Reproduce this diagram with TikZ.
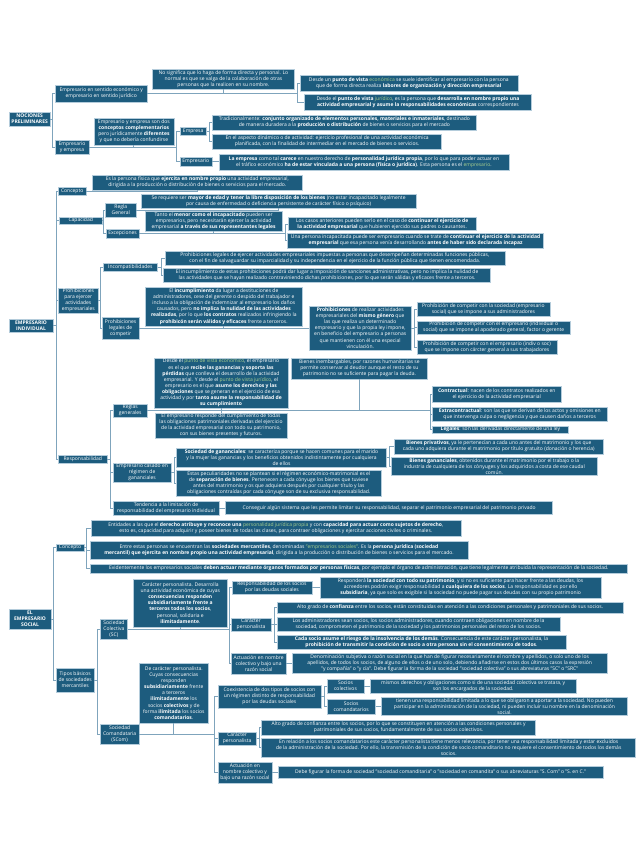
\documentclass[tikz,border=0pt]{standalone}
\usepackage{fontspec}
\setmainfont{Open Sans}
\usetikzlibrary{calc}
\definecolor{boxfill}{HTML}{1D5C7E}
\definecolor{boxline}{HTML}{B4CCDB}
\definecolor{linec}{HTML}{7FA4BC}
\definecolor{hlgreen}{HTML}{A9D18E}
\newcommand{\grn}[1]{\textcolor{hlgreen}{#1}}

\begin{document}
\begin{tikzpicture}[x=1pt, y=-1pt, font=\fontsize{5}{6.1}\selectfont,
          box/.style={draw=boxline, line width=0.5pt, fill=boxfill, text=white,
                      align=center, inner xsep=1.5pt, inner ysep=1pt},
          ttl/.style={box, font=\fontsize{5}{6.1}\selectfont\bfseries},
          wh/.style 2 args={minimum width=#1pt, minimum height=#2pt},
          conn/.style={draw=linec, line width=0.9pt}]
        \useasboundingbox (0,0) rectangle (641,848);
        % nociones preliminares
        \node[ttl, wh={41}{14}] (np) at (29.6,119) {NOCIONES\\PRELIMINARES};
        \node[box, wh={92}{17}] (esj) at (101.2,93.5) {Empresario en sentido económico y\\empresario en sentido jurídico};
        \node[box, wh={142}{20}] (nosig) at (223.4,79) {No significa que lo haga de forma directa y personal. Lo\\normal es que se valga de la colaboración de otras\\personas que la realicen en su nombre.};
        \node[box, wh={218}{16}] (econ) at (408.8,83) {Desde un \textbf{punto de vista} \grn{económica} se suele identificar al empresario con la persona\\que de forma directa realiza \textbf{labores de organización y dirección empresarial}};
        \node[box, wh={227}{16}] (jur) at (418,102) {Desde el \textbf{punto de vista} \grn{jurídico}, es la persona que \textbf{desarrolla en nombre propio una}\\\textbf{actividad empresarial y asume la responsabilidades económicas} correspondientes};
        \node[box, wh={33.5}{14}] (eye) at (72,147) {Empresario\\y empresa};
        \node[box, wh={80}{27}] (concomp) at (133.9,131.5) {Empresario y empresa son dos\\\textbf{conceptos complementarios}\\pero jurídicamente \textbf{diferentes}\\y que no debería confundirse};
        \node[box, wh={26.6}{7.5}] (empresa) at (193.2,131.5) {Empresa};
        \node[box, wh={264}{15}] (trad) at (344.4,122.5) {Tradicionalmente: \textbf{conjunto organizado de elementos personales, materiales e inmateriales}, destinado\\de manera duradera a la \textbf{producción o distribución} de bienes o servicios para el mercado};
        \node[box, wh={229}{15}] (dina) at (327.1,141.5) {En el aspecto dinámico o de actividad: ejercicio profesional de una actividad económica\\planificada, con la finalidad de intermediar en el mercado de bienes o servicios.};
        \node[box, wh={32}{9}] (empr) at (195.8,161.5) {Empresario};
        \node[box, wh={290}{16}] (carece) at (363.9,162) {\textbf{La empresa} como tal \textbf{carece} en nuestro derecho de \textbf{personalidad jurídica propia}, por lo que para poder actuar en\\el tráfico económico \textbf{ha de estar vinculada a una persona (física o jurídica)}. Esta persona es el \grn{empresario}.};
        % empresario individual
        \node[ttl, wh={44}{13}] (ei) at (31,325.5) {EMPRESARIO\\INDIVIDUAL};
        \node[box, wh={27.4}{8}] (conc1) at (72.2,191) {Concepto};
        \node[box, wh={210.5}{15}] (conc1t) at (197.3,182.5) {Es la persona física que \textbf{ejercita en nombre propio} una actividad empresarial,\\dirigida a la producción o distribución de bienes o servicios para el mercado.};
        \node[box, wh={43}{7.5}] (cap) at (80.7,220.5) {Capacidad};
        \node[box, wh={30.6}{14}] (rg) at (120.8,210) {Regla\\General};
        \node[box, wh={275}{14}] (rgt) at (278.6,201) {Se requiere ser \textbf{mayor de edad y tener la libre disposición de los bienes} (no estar incapacitado legalmente\\por causa de enfermedad o deficiencia persistente de carácter físico o psíquico)};
        \node[box, wh={32.7}{9}] (exc) at (122.6,233.5) {Excepciones};
        \node[box, wh={137}{20}] (tanto) at (213.6,221) {Tanto el \textbf{menor como el incapacitado} pueden ser\\empresarios, pero necesitarán ejercer la actividad\\empresarial \textbf{a través de sus representantes legales}};
        \node[box, wh={188}{12}] (casos) at (382.2,224) {Los casos anteriores pueden serlo en el caso de \textbf{continuar el ejercicio de}\\\textbf{la actividad empresarial} que hubieren ejercido sus padres o causantes.};
        \node[box, wh={256}{15}] (incap) at (415.6,240.5) {Una persona incapacitada puede ser empresario cuando se trate de \textbf{continuar el ejercicio de la actividad}\\\textbf{empresarial} que esa persona venía desarrollando \textbf{antes de haber sido declarada incapaz}};
        \node[box, wh={39.6}{25}] (proh) at (78.3,300.5) {Prohibiciones\\para ejercer\\actividades\\empresariales};
        \node[box, wh={54}{8}] (incomp) at (130.4,267) {Incompatibilidades};
        \node[box, wh={340}{14}] (inct1) at (334.8,258) {Prohibiciones legales de ejercer actividades empresariales impuestas a personas que desempeñan determinadas funciones públicas,\\con el fin de salvaguardar su imparcialidad y su independencia en el ejercicio de la función pública que tienen encomendada.};
        \node[box, wh={327}{14}] (inct2) at (327.1,275) {El incumplimiento de estas prohibiciones podrá dar lugar a imposición de sanciones administrativas, pero no implica la nulidad de\\las actividades que se hayan realizado contraviniendo dichas prohibiciones, por lo que serán válidas y eficaces frente a terceros.};
        \node[box, wh={36.8}{22}] (plc) at (120.6,328) {Prohibiciones\\legales de\\competir};
        \node[box, wh={157.4}{39}] (incum) at (223.8,306.5) {El \textbf{incumplimiento} da lugar a destituciones de\\administradores, cese del gerente o despido del trabajador e\\incluso a la obligación de indemnizar al empresario los daños\\causados, pero \textbf{no implica la nulidad de las actividades}\\\textbf{realizadas}, por lo que \textbf{los contratos} realizados infringiendo la\\\textbf{prohibicón serán válidos y eficaces} frente a terceros.};
        \node[box, wh={101.4}{44}] (mismo) at (360.2,328) {\textbf{Prohibiciones} de realizar actividades\\empresariales del \textbf{mismo género} que\\las que realiza un determinado\\empresario y que la propia ley impone,\\en beneficio del empresario a personas\\que mantienen con él una especial\\vinculación.};
        \node[box, wh={133}{14}] (pc1) at (483.4,309) {Prohibición de competir con la sociedad (empresario\\social) que se impone a sus administradores};
        \node[box, wh={153}{13}] (pc2) at (493.7,327.5) {Prohibición de competir con el empresario (individual o\\social) que se impone al apoderado general, factor o gerente};
        \node[box, wh={140}{14}] (pc3) at (486.9,347) {Prohibición de competir con el empresario (indiv o soc)\\que se impone con cárcter general a sus trabajadores};
        % responsabilidad
        \node[box, wh={48.6}{8}] (resp) at (82.8,459) {Responsabilidad};
        \node[box, wh={34}{11}] (rgen) at (130.2,410.5) {Reglas\\generales};
        \node[box, wh={133.7}{50}] (desde) at (221,383) {Desde el \grn{punto de vista económico}, el empresario\\es el que \textbf{recibe las ganancias y soporta las}\\\textbf{pérdidas} que conlleva el desarrollo de la actividad\\empresarial. Y desde el \grn{punto de vista jurídico}, el\\empresario es el que \textbf{asume los derechos y las}\\\textbf{obligaciones} que se generan en el ejercicio de esa\\actividad y por \textbf{tanto asume la responsabilidad de}\\\textbf{su cumplimiento}};
        \node[box, wh={131.7}{25}] (respt) at (221,425.5) {El empresario responde del cumplimiento de todas\\las obligaciones patrimoniales derivadas del ejercicio\\de la actividad empresarial con todo su patrimonio,\\con sus bienes presentes y futuros.};
        \node[box, wh={135.7}{21}] (inemb) at (359.4,368.5) {Bienes inembargables, por razones humanitarias se\\permite conservar al deudor aunque el resto de su\\patrimonio no se suficiente para pagar la deuda.};
        \node[box, wh={128.4}{16}] (contr) at (496.7,394) {\textbf{Contractual}: nacen de los contratos realizados en\\el ejercicio de la actividad empresarial};
        \node[box, wh={174.6}{14}] (extra) at (519.8,414) {\textbf{Extracontractual}: son las que se derivan de los actos y omisiones en\\que intervenga culpa o negligencia y que causen daños a terceros};
        \node[box, wh={135.8}{7.5}] (leg) at (500.4,429.5) {\textbf{Legales}: son las derivadas directamente de una ley};
        \node[box, wh={57.7}{17}] (casado) at (142.1,472.5) {Empresario casado en\\régimen de\\gananciales};
        \node[box, wh={209.7}{19}] (socgan) at (281.5,457.5) {\textbf{Sociedad de gananciales}: se caracteriza porque se hacen comunes para el marido\\y la mujer las ganancias y los beneficios obtenidos indistintamente por cualquiera\\de ellos};
        \node[box, wh={208.5}{15}] (priv) at (498.8,446.5) {\textbf{Bienes privativos}, ya le pertenecían a cada uno antes del matrimonio y los que\\cada uno adquiera durante el matrimonio por título gratuito (donación o herencia)};
        \node[box, wh={205.2}{17}] (ganan) at (494.3,466.5) {\textbf{Bienes gananciales}, obtenidos durante el matrimonio por el trabajo o la\\industria de cualquiera de los cónyuges y los adquiridos a costa de ese caudal\\común.};
        \node[box, wh={204.4}{26}] (separ) at (278.8,483) {Estas peculiaridades no se plantean si el régimen económico-matrimonial es el\\de \textbf{separación de bienes}. Pertenecen a cada cónyuge los bienes que tuviese\\antes del matrimonio y os que adquiera después por cualquier título y las\\obligaciones contraídas por cada cónyuge son de su exclusiva responsabilidad.};
        \node[box, wh={105.5}{14}] (tend) at (166,508) {Tendencia a la limitación de\\responsabilidad del empresario individual};
        \node[box, wh={327}{13}] (cons) at (389.2,508) {Conseguir algún sistema que les permite limitar su responsabilidad, separar el patrimonio empresarial del patrimonio privado};
        % empresario social
        \node[ttl, wh={42}{20}] (es) at (30,619) {EL\\EMPRESARIO\\SOCIAL};
        \node[box, wh={27.4}{7.5}] (conc2) at (70.1,547.5) {Concepto};
        \node[box, wh={370}{16}] (ent) at (275.8,528) {Entidades a las que el \textbf{derecho atribuye y reconoce una} \grn{personalidad jurídica propia} y con \textbf{capacidad para actuar como sujetos de derecho},\\esto es, capacidad para adquirir y poseer bienes de todas las clases, para contraer obligaciones y ejercitar acciones civiles o criminales.};
        \node[box, wh={378}{18}] (entre) at (279,550) {Entre estas personas se encuentran las \textbf{sociedades mercantiles}, denominadas \grn{"empresarios sociales"}. Es la \textbf{persona jurídica (sociedad}\\\textbf{mercantil) que ejercita en nombre propio una actividad empresarial}, dirigida a la producción o distribución de bienes o servicios para el mercado.};
        \node[box, wh={537.7}{9}] (evid) at (358.8,568.5) {Evidentemente los empresarios sociales \textbf{deben actuar mediante órganos formados por personas físicas}, por ejemplo el órgano de administración, que tiene legalmente atribuida la representación de la sociedad.};
        \node[box, wh={37.6}{24}] (tipos) at (75.2,680) {Tipos básicos\\de sociedades\\mercantiles};
        \node[box, wh={27.4}{20}] (sc) at (113.9,629) {Sociedad\\Colectiva\\(SC)};
        \node[box, wh={93.2}{48}] (scpers) at (180.3,603) {Carácter personalista. Desarrolla\\una actividad económica de cuyas\\\textbf{consecuencias responden}\\\textbf{subsidiariamente frente a}\\\textbf{terceros todos los socios},\\personal, solidaria e\\\textbf{ilimitadamente}.};
        \node[box, wh={80}{13}] (rsoc) at (271.9,587.5) {Responsabilidad de los socios\\por las deudas sociales};
        \node[box, wh={281}{21}] (rsoct) at (460.6,587.5) {Responderá \textbf{la sociedad con todo su patrimonio}, y si no es suficiente para hacer frente a las deudas, los\\acreedores podrán exigir responsabilidad a \textbf{cualquiera de los socios}. La responsabilidad es por ello\\\textbf{subsidiaria}, ya que solo es exigible si la sociedad no puede pagar sus deudas con su propio patrimonio};
        \node[box, wh={40}{13}] (scar) at (251,624.5) {Carácter\\personalista};
        \node[box, wh={346.7}{11}] (alto1) at (450.1,607.5) {Alto grado de \textbf{confianza} entre los socios, están constituidas en atención a las condiciones personales y patrimoniales de sus socios.};
        \node[box, wh={283.3}{14}] (admin) at (418.5,624) {Los administradores sean socios, los socios administradores, cuando contraen obligaciones en nombre de la\\sociedad, comprometen el patrimonio de la sociedad y los patrimonios personales del resto de los socios.};
        \node[box, wh={289.4}{14}] (riesgo) at (421.5,642) {\textbf{Cada socio asume el riesgo de la insolvencia de los demás}. Consecuencia de este carácter personalista, la\\\textbf{prohibición de transmitir la condición de socio a otra persona sin el consentimiento de todos}.};
        \node[box, wh={55.2}{21}] (sact) at (258.6,663.5) {Actuación en nombre\\colectivo y bajo una\\razón social};
        \node[box, wh={314.8}{20}] (denom) at (449.7,663.5) {Denominación subjetiva o razón social en la que han de figurar necesariamente el nombre y apellidos, o solo uno de los\\apellidos, de todos los socios, de alguno de ellos o de uno solo, debiendo añadirse en estos dos últimos casos la expresión\\"y compañía" o "y cía". Debe figurar la forma de la sociedad "sociedad colectiva" o sus abreviaturas "SC" o "SRC"};
        \node[box, wh={38.8}{20}] (scom) at (119.6,734) {Sociedad\\Comandataria\\(SCom)};
        \node[box, wh={69.5}{60}] (scompers) at (173.8,693) {De carácter personalista.\\Cuyas consecuencias\\responden\\\textbf{subsidiariamente} frente\\a terceros\\\textbf{ilimitadamente} los\\socios \textbf{colectivos} y de\\forma \textbf{ilimitada} los socios\\\textbf{comandatarios}.};
        \node[box, wh={103}{23}] (coex) at (269.4,696.5) {Coexistencia de dos tipos de socios con\\un régimen distinto de responsabilidad\\por las deudas sociales};
        \node[box, wh={36.8}{14}] (scol) at (345.5,686) {Socios\\colectivos};
        \node[box, wh={206.5}{14}] (scolt) at (473.2,686) {mismos derechos y obligaciones como si de una sociedad colectiva se tratara, y\\son los encargados de la sociedad.};
        \node[box, wh={48.2}{15}] (scomd) at (351.2,706.5) {Socios\\comandatarios};
        \node[box, wh={246.2}{18}] (scomdt) at (504.5,706.5) {tienen una responsabilidad limitada a lo que se obligaron a aportar a la sociedad. No pueden\\participar en la administración de la sociedad, ni pueden incluir su nombre en la denominación\\social.};
        \node[box, wh={38.4}{13}] (scar2) at (237.1,738.5) {Carácter\\personalista};
        \node[box, wh={273.9}{15}] (alto2) at (398.6,727.5) {Alto grado de confianza entre los socios, por lo que se constituyen en atención a las condiciones personales y\\patrimoniales de sus socios, fundamentalmente de sus socios colectivos.};
        \node[box, wh={374}{19}] (relac) at (448.7,747.5) {En relación a los socios comandatarios este carácter personalista tiene menos relevancia, por tener una responsabilidad limitada y estar excluidos\\de la administración de la sociedad. Por ello, la transmisión de la condición de socio comanditario no requiere el consentimiento de todos los demás\\socios.};
        \node[box, wh={54}{21}] (sact2) at (244.9,772.5) {Actuación en\\nombre colectivo y\\bajo una razón social};
        \node[box, wh={325}{12}] (debe) at (440.5,772.5) {Debe figurar la forma de sociedad "sociedad comanditaria" o "sociedad en comandita" o sus abreviaturas "S. Com" o "S. en C."};
        % bracket columns
        \coordinate (tNP) at (52.8,0);  \coordinate (bESJ) at (297,0);
        \coordinate (bEYE) at (176.8,0); \coordinate (bEMP) at (209.5,0);
        \coordinate (tEI) at (56,0);    \coordinate (bCAP) at (103.9,0);
        \coordinate (bEXC) at (285,0);  \coordinate (bPRO) at (100.6,0);
        \coordinate (bINC) at (161,0);  \coordinate (bMIS) at (414,0);
        \coordinate (bRES) at (110,0);  \coordinate (bRGE) at (430,0);
        \coordinate (bCAS) at (174,0);  \coordinate (bGAN) at (389.5,0);
        \coordinate (tES) at (53.7,0);  \coordinate (bCO2) at (86.8,0);
        \coordinate (bTIP) at (97,0);   \coordinate (bSC) at (229.3,0);
        \coordinate (bSCA) at (274,0);  \coordinate (bSCO) at (214.2,0);
        \coordinate (bCOE) at (324,0);  \coordinate (bSC2) at (259,0);
        % nociones preliminares links
        \foreach \c in {esj,eye} \draw[conn] (np.east) -| (tNP |- \c.west) -- (\c.west);
        \foreach \c in {econ,jur} \draw[conn] (esj.east) -| (bESJ |- \c.west) -- (\c.west);
        \draw[conn] (nosig.south) -- (nosig.south |- esj.east);
        \foreach \c in {empresa,empr} \draw[conn] (eye.east) -| (bEYE |- \c.west) -- (\c.west);
        \draw[conn] (concomp.south) -- (concomp.south |- eye.east);
        \foreach \c in {trad,dina} \draw[conn] (empresa.east) -| (bEMP |- \c.west) -- (\c.west);
        \draw[conn] (empr.east) -- (empr.east -| carece.west);
        % empresario individual links
        \foreach \c in {conc1,cap,proh,resp} \draw[conn] (ei.east) -| (tEI |- \c.west) -- (\c.west);
        \draw[conn] (conc1.east) -| (conc1t.south);
        \foreach \c in {rg,exc} \draw[conn] (cap.east) -| (bCAP |- \c.west) -- (\c.west);
        \draw[conn] (rg.east) -| (rgt.south);
        \foreach \c in {casos,incap} \draw[conn] (exc.east) -| (bEXC |- \c.west) -- (\c.west);
        \draw[conn] (tanto.south) -- (tanto.south |- exc.east);
        \foreach \c in {incomp,plc} \draw[conn] (proh.east) -| (bPRO |- \c.west) -- (\c.west);
        \foreach \c in {inct1,inct2} \draw[conn] (incomp.east) -| (bINC |- \c.west) -- (\c.west);
        \draw[conn] (plc.east) -- (plc.east -| mismo.west);
        \draw[conn] (incum.south) -- (incum.south |- plc.east);
        \foreach \c in {pc1,pc2,pc3} \draw[conn] (mismo.east) -| (bMIS |- \c.west) -- (\c.west);
        \foreach \c in {rgen,casado,tend} \draw[conn] (resp.east) -| (bRES |- \c.west) -- (\c.west);
        \foreach \c in {contr,extra,leg} \draw[conn] (rgen.east) -| (bRGE |- \c.west) -- (\c.west);
        \draw[conn] (desde.south) -- (respt.north);
        \draw[conn] (inemb.south) -- (inemb.south |- rgen.east);
        \foreach \c in {socgan,separ} \draw[conn] (casado.east) -| (bCAS |- \c.west) -- (\c.west);
        \foreach \c in {priv,ganan} \draw[conn] (socgan.east) -| (bGAN |- \c.west) -- (\c.west);
        \draw[conn] (tend.east) -- (tend.east -| cons.west);
        % empresario social links
        \foreach \c in {conc2,tipos} \draw[conn] (es.east) -| (tES |- \c.west) -- (\c.west);
        \foreach \c in {ent,entre,evid} \draw[conn] (conc2.east) -| (bCO2 |- \c.west) -- (\c.west);
        \foreach \c in {sc,scom} \draw[conn] (tipos.east) -| (bTIP |- \c.west) -- (\c.west);
        \foreach \c in {rsoc,scar,sact} \draw[conn] (sc.east) -| (bSC |- \c.west) -- (\c.west);
        \draw[conn] (scpers.south) -- (scpers.south |- sc.east);
        \draw[conn] (rsoc.east) -- (rsoc.east -| rsoct.west);
        \foreach \c in {alto1,admin,riesgo} \draw[conn] (scar.east) -| (bSCA |- \c.west) -- (\c.west);
        \draw[conn] (sact.east) -- (sact.east -| denom.west);
        \foreach \c in {coex,scar2,sact2} \draw[conn] (scom.east) -| (bSCO |- \c.west) -- (\c.west);
        \draw[conn] (scompers.south) -- (scompers.south |- scom.east);
        \foreach \c in {scol,scomd} \draw[conn] (coex.east) -| (bCOE |- \c.west) -- (\c.west);
        \draw[conn] (scol.east) -- (scol.east -| scolt.west);
        \draw[conn] (scomd.east) -- (scomd.east -| scomdt.west);
        \foreach \c in {alto2,relac} \draw[conn] (scar2.east) -| (bSC2 |- \c.west) -- (\c.west);
        \draw[conn] (sact2.east) -- (sact2.east -| debe.west);
      \end{tikzpicture}
\end{document}
